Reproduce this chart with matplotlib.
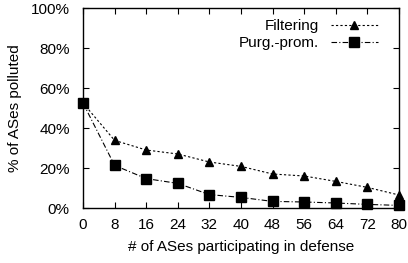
import numpy as np
import matplotlib.pyplot as plt

plt.rcParams['font.family'] = ['Liberation Sans', 'DejaVu Sans']

x = [0, 8, 16, 24, 32, 40, 48, 56, 64, 72, 80]
filtering = [52.5, 33.8, 29.0, 27.0, 23.0, 20.8, 17.0, 16.0, 13.3, 10.3, 6.5]
purg_prom = [52.5, 21.3, 14.7, 12.3, 6.7, 5.3, 3.3, 3.0, 2.5, 1.8, 1.3]

fig = plt.figure(figsize=(4.08, 2.63), dpi=100)
ax = fig.add_axes([83 / 408, 55 / 263, 316 / 408, 200 / 263])

ax.plot(x, filtering, color='black', lw=0.8, dashes=(2, 2), marker='^', ms=5.5,
        label='Filtering', clip_on=False)
ax.plot(x, purg_prom, color='black', lw=0.8, dashes=(5, 2, 1, 2), marker='s', ms=7.5,
        label='Purg.-prom.', clip_on=False)

ax.set_xlim(0, 80)
ax.set_ylim(0, 100)
ax.set_xticks(x)
ax.set_yticks(np.arange(0, 101, 20))
ax.set_yticklabels([f'{v}%' for v in range(0, 101, 20)])
ax.tick_params(direction='in', top=True, right=True, labelsize=11, length=4)
ax.tick_params(axis='x', pad=7)
ax.tick_params(axis='y', pad=9.5)
for s in ax.spines.values():
    s.set_linewidth(1)

ax.set_xlabel('# of ASes participating in defense', fontsize=11, labelpad=6)
ax.set_ylabel('% of ASes polluted', fontsize=11, labelpad=6)

ax.legend(loc='upper right', bbox_to_anchor=(0.934, 0.945), frameon=False,
          markerfirst=False, fontsize=11, handlelength=3.1, handletextpad=0.8,
          labelspacing=0.2, borderpad=0, borderaxespad=0)

fig.savefig('out.png', dpi=100)
